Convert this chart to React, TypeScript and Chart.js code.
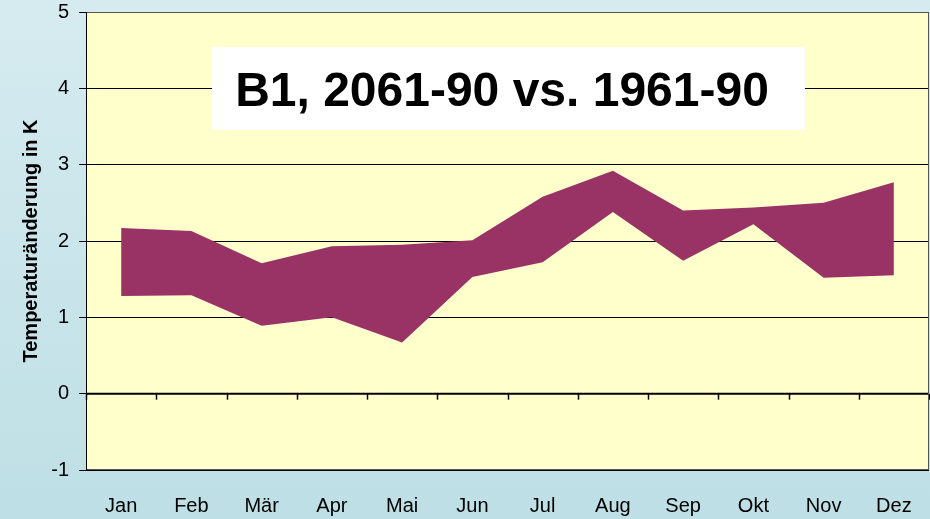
import React, { useEffect, useRef } from "react";
import { Chart, registerables } from "chart.js";

Chart.register(...registerables);

const months = ["Jan", "Feb", "Mär", "Apr", "Mai", "Jun", "Jul", "Aug", "Sep", "Okt", "Nov", "Dez"];
const upperValues = [2.17, 2.13, 1.71, 1.93, 1.95, 2.01, 2.58, 2.92, 2.40, 2.44, 2.50, 2.77];
const lowerValues = [1.28, 1.29, 0.89, 1.00, 0.67, 1.53, 1.72, 2.38, 1.74, 2.22, 1.52, 1.55];
const yMin = -1;
const yMax = 5;
const titleText = "B1, 2061-90 vs. 1961-90";
const yAxisTitle = "Temperaturänderung in K";

const FONT = "'Liberation Sans', Arial, sans-serif";

const decorPlugin = {
  id: "decor",
  beforeDraw(chart: any) {
    const { ctx, chartArea } = chart;
    ctx.save();
    ctx.fillStyle = "#FFFFCC";
    ctx.fillRect(chartArea.left, chartArea.top, chartArea.right - chartArea.left, chartArea.bottom - chartArea.top);
    ctx.restore();
  },
  afterDatasetsDraw(chart: any) {
    const { ctx, chartArea, scales } = chart;
    const x = scales.x;
    const y = scales.y;
    const y0 = y.getPixelForValue(0);
    ctx.save();
    // zero line
    ctx.strokeStyle = "#000";
    ctx.lineWidth = 2;
    ctx.beginPath();
    ctx.moveTo(chartArea.left, y0);
    ctx.lineTo(chartArea.right, y0);
    ctx.stroke();
    // category tick marks on zero line
    ctx.lineWidth = 1.5;
    for (let i = 0; i <= months.length; i++) {
      const px = Math.round(x.getPixelForValue(i - 0.5)) + 0.5;
      ctx.beginPath();
      ctx.moveTo(px, y0);
      ctx.lineTo(px, y0 + 6);
      ctx.stroke();
    }
    // plot border
    ctx.lineWidth = 1;
    ctx.strokeStyle = "#555";
    ctx.strokeRect(chartArea.left + 0.5, chartArea.top + 0.5, chartArea.right - chartArea.left - 1, chartArea.bottom - chartArea.top - 1);
    ctx.strokeStyle = "#000";
    ctx.beginPath();
    ctx.moveTo(chartArea.left + 0.5, chartArea.top);
    ctx.lineTo(chartArea.left + 0.5, chartArea.bottom);
    ctx.stroke();
    // title box
    ctx.fillStyle = "#FFFFFF";
    ctx.fillRect(212, 47, 593, 83);
    ctx.fillStyle = "#000";
    ctx.font = "bold 48px " + FONT;
    ctx.textAlign = "center";
    ctx.textBaseline = "alphabetic";
    ctx.fillText(titleText, 502, 106);
    ctx.restore();
  },
};

export default function App() {
  const canvasRef = useRef<HTMLCanvasElement | null>(null);

  useEffect(() => {
    if (!canvasRef.current) return;
    const chart = new Chart(canvasRef.current, {
      type: "line",
      data: {
        labels: months,
        datasets: [
          {
            label: "upper",
            data: upperValues,
            borderWidth: 0,
            borderColor: "#993366",
            pointRadius: 0,
            fill: false,
            tension: 0,
          },
          {
            label: "lower",
            data: lowerValues,
            borderWidth: 0,
            borderColor: "#993366",
            backgroundColor: "#993366",
            pointRadius: 0,
            fill: "-1",
            tension: 0,
          },
        ],
      },
      options: {
        responsive: false,
        animation: false,
        layout: { padding: { top: 12, right: 1, left: 0, bottom: 0 } },
        plugins: {
          legend: { display: false },
          tooltip: { enabled: false },
          title: { display: false },
        },
        scales: {
          x: {
            type: "category",
            offset: true,
            grid: { display: false, drawTicks: false },
            border: { display: false },
            ticks: {
              color: "#000",
              font: { family: FONT, size: 20 },
              padding: 24,
              maxRotation: 0,
              autoSkip: false,
            },
            afterFit(scale: any) {
              scale.height = 49;
              scale.paddingLeft = 0;
              scale.paddingRight = 0;
            },
          },
          y: {
            min: yMin,
            max: yMax,
            grid: { color: "#000", lineWidth: 1, tickLength: 7, drawTicks: true },
            border: { display: true, color: "#000", width: 1 },
            ticks: {
              stepSize: 1,
              color: "#000",
              font: { family: FONT, size: 20 },
              padding: 10,
            },
            title: {
              display: true,
              text: yAxisTitle,
              color: "#000",
              font: { family: FONT, size: 20, weight: "bold", lineHeight: 1.2 },
              padding: { top: 19, bottom: 0 },
            },
            afterFit(scale: any) {
              scale.width = 86;
              scale.paddingTop = 0;
              scale.paddingBottom = 0;
            },
          },
        },
      },
      plugins: [decorPlugin],
    });
    return () => chart.destroy();
  }, []);

  return (
    <div
      style={{
        position: "absolute",
        left: 0,
        top: 0,
        width: 930,
        height: 519,
        background: "linear-gradient(180deg, #d6ebf0 0%, #bddfe5 100%)",
      }}
    >
      <canvas ref={canvasRef} width={930} height={519} style={{ display: "block" }} />
    </div>
  );
}
